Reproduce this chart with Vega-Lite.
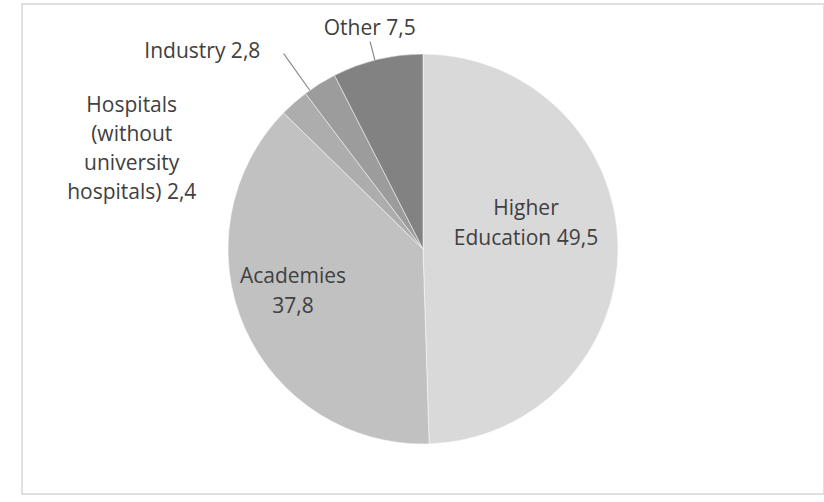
{
  "$schema": "https://vega.github.io/schema/vega-lite/v6.json",
  "width": 802,
  "height": 490,
  "autosize": {"type": "none"},
  "padding": {"left": 22, "top": 4, "right": 0, "bottom": 8},
  "background": "white",
  "config": {"view": {"stroke": null}},
  "data": {
    "values": [
      {"sector": "Higher Education", "value": 49.5, "rank": 1, "label": "Higher\nEducation 49,5"},
      {"sector": "Academies", "value": 37.8, "rank": 2, "label": "Academies\n37,8"},
      {"sector": "Hospitals", "value": 2.4, "rank": 3, "label": "Hospitals\n(without\nuniversity\nhospitals) 2,4"},
      {"sector": "Industry", "value": 2.8, "rank": 4, "label": "Industry 2,8"},
      {"sector": "Other", "value": 7.5, "rank": 5, "label": "Other 7,5"}
    ]
  },
  "layer": [
    {
      "data": {"values": [{"frame": "border"}]},
      "mark": {"type": "rect", "fill": null, "stroke": "#d6d6d6", "strokeWidth": 1.5},
      "encoding": {}
    },
    {
      "mark": {"type": "arc", "outerRadius": 195, "stroke": "white", "strokeWidth": 0.5},
      "encoding": {
        "theta": {"field": "value", "type": "quantitative", "stack": true},
        "order": {"field": "rank", "type": "quantitative"},
        "color": {
          "field": "sector",
          "type": "nominal",
          "scale": {
            "domain": ["Higher Education", "Academies", "Hospitals", "Industry", "Other"],
            "range": ["#d9d9d9", "#c1c1c1", "#adadad", "#9c9c9c", "#828282"]
          },
          "legend": null
        }
      }
    },
    {
      "transform": [
        {"stack": "value", "groupby": [], "sort": [{"field": "rank", "order": "ascending"}], "as": ["v0", "v1"]}
      ],
      "mark": {"type": "arc", "innerRadius": 195, "outerRadius": 214, "thetaOffset": 0.2217, "theta2Offset": 0.2217, "fill": null, "stroke": "#8a8a8a", "strokeWidth": 1.2},
      "encoding": {
        "theta": {"field": "v0", "type": "quantitative", "stack": null, "scale": {"domain": [0, 100]}},
        "theta2": {"field": "v0"},
        "strokeOpacity": {"condition": {"test": "datum.sector === 'Other'", "value": 1}, "value": 0}
      }
    },
    {
      "transform": [
        {"stack": "value", "groupby": [], "sort": [{"field": "rank", "order": "ascending"}], "as": ["v0", "v1"]},
        {"filter": "datum.sector === 'Industry'"}
      ],
      "mark": {"type": "arc", "innerRadius": 195, "outerRadius": 240, "thetaOffset": 0.0276, "theta2Offset": 0.0276, "fill": null, "stroke": "#8a8a8a", "strokeWidth": 1.2},
      "encoding": {
        "theta": {"field": "v0", "type": "quantitative", "stack": null, "scale": {"domain": [0, 100]}},
        "theta2": {"field": "v0"}
      }
    },
    {
      "mark": {"type": "text", "radius": 103, "dy": -38, "align": "center", "baseline": "middle", "lineBreak": "\n", "lineHeight": 30, "font": "Open Sans", "fontSize": 21, "fill": "#404040"},
      "encoding": {
        "theta": {"field": "value", "type": "quantitative", "stack": true},
        "order": {"field": "rank", "type": "quantitative"},
        "detail": {"field": "sector"},
        "text": {"condition": {"test": "datum.sector === 'Higher Education'", "field": "label"}, "value": ""}
      }
    },
    {
      "mark": {"type": "text", "radius": 142, "dy": -29, "align": "center", "baseline": "middle", "lineBreak": "\n", "lineHeight": 30, "font": "Open Sans", "fontSize": 21, "fill": "#404040"},
      "encoding": {
        "theta": {"field": "value", "type": "quantitative", "stack": true},
        "order": {"field": "rank", "type": "quantitative"},
        "detail": {"field": "sector"},
        "text": {"condition": {"test": "datum.sector === 'Academies'", "field": "label"}, "value": ""}
      }
    },
    {
      "mark": {"type": "text", "radius": 200, "dx": -159, "dy": 7, "align": "center", "baseline": "middle", "lineBreak": "\n", "lineHeight": 29, "font": "Open Sans", "fontSize": 21, "fill": "#404040"},
      "encoding": {
        "theta": {"field": "value", "type": "quantitative", "stack": true},
        "order": {"field": "rank", "type": "quantitative"},
        "detail": {"field": "sector"},
        "text": {"condition": {"test": "datum.sector === 'Hospitals'", "field": "label"}, "value": ""}
      }
    },
    {
      "mark": {"type": "text", "radius": 235, "dx": -96, "dy": 2, "align": "center", "baseline": "middle", "font": "Open Sans", "fontSize": 21, "fill": "#404040"},
      "encoding": {
        "theta": {"field": "value", "type": "quantitative", "stack": true},
        "order": {"field": "rank", "type": "quantitative"},
        "detail": {"field": "sector"},
        "text": {"condition": {"test": "datum.sector === 'Industry'", "field": "label"}, "value": ""}
      }
    },
    {
      "mark": {"type": "text", "radius": 228, "dy": 2, "align": "center", "baseline": "middle", "font": "Open Sans", "fontSize": 21, "fill": "#404040"},
      "encoding": {
        "theta": {"field": "value", "type": "quantitative", "stack": true},
        "order": {"field": "rank", "type": "quantitative"},
        "detail": {"field": "sector"},
        "text": {"condition": {"test": "datum.sector === 'Other'", "field": "label"}, "value": ""}
      }
    }
  ]
}
